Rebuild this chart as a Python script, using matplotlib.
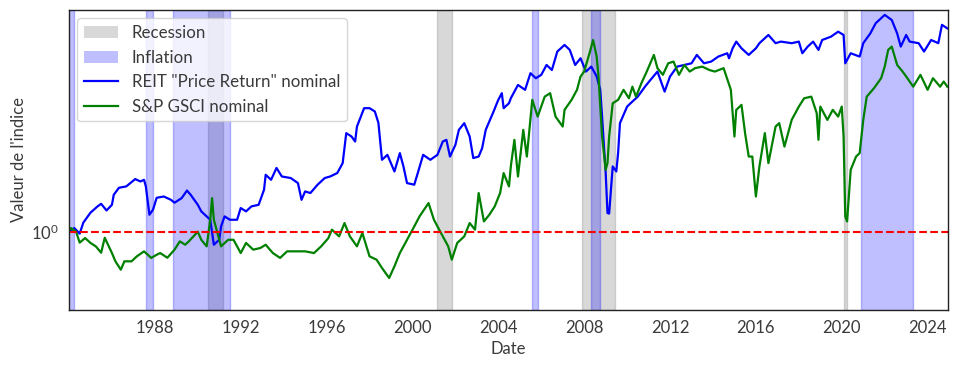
import numpy as np
import pandas as pd
import matplotlib
matplotlib.use("Agg")
import matplotlib.pyplot as plt
import matplotlib.dates as mdates
from matplotlib.patches import Patch
from matplotlib.lines import Line2D

plt.rcParams['font.family'] = ['Lato', 'DejaVu Sans']

# REIT "Price Return" nominal (index, start = 1)
reit_dates = [
    "1984-01", "1984-04", "1984-07", "1984-09", "1985-01", "1985-05", "1985-07", "1985-10",
    "1986-01", "1986-02", "1986-05", "1986-09", "1987-02", "1987-05", "1987-07", "1987-08",
    "1987-10", "1987-12", "1988-02", "1988-06", "1988-10", "1988-12", "1989-04", "1989-07",
    "1989-09", "1990-01", "1990-03", "1990-06", "1990-08", "1990-10", "1991-01", "1991-02",
    "1991-04", "1991-07", "1991-11", "1992-01", "1992-04", "1992-07", "1992-11", "1993-02",
    "1993-03", "1993-06", "1993-09", "1993-12", "1994-05", "1994-09", "1994-11", "1995-01",
    "1995-04", "1995-08", "1995-12", "1996-03", "1996-07", "1996-10", "1996-12", "1997-03",
    "1997-05", "1997-06", "1997-10", "1998-01", "1998-04", "1998-06", "1998-08", "1998-11",
    "1999-03", "1999-06", "1999-08", "1999-10", "2000-02", "2000-04", "2000-07", "2000-11",
    "2001-03", "2001-06", "2001-08", "2001-10", "2002-01", "2002-03", "2002-06", "2002-09",
    "2002-11", "2003-02", "2003-04", "2003-06", "2003-10", "2004-01", "2004-03", "2004-04",
    "2004-07", "2004-08", "2004-12", "2005-04", "2005-07", "2005-10", "2006-01", "2006-04",
    "2006-07", "2006-10", "2007-02", "2007-05", "2007-08", "2007-11", "2008-02", "2008-05",
    "2008-08", "2008-10", "2008-11", "2009-01", "2009-02", "2009-03", "2009-05", "2009-07",
    "2009-08", "2009-09", "2010-01", "2010-03", "2010-07", "2010-11", "2011-02", "2011-06",
    "2011-10", "2012-01", "2012-05", "2012-09", "2013-01", "2013-04", "2013-08", "2013-12",
    "2014-04", "2014-09", "2014-10", "2014-12", "2015-02", "2015-05", "2015-09", "2016-01",
    "2016-03", "2016-08", "2016-12", "2017-03", "2017-09", "2018-01", "2018-03", "2018-06",
    "2018-09", "2018-12", "2019-02", "2019-07", "2019-11", "2020-02", "2020-03", "2020-06",
    "2020-11", "2021-01", "2021-05", "2021-08", "2022-01", "2022-05", "2022-08", "2022-10",
    "2023-01", "2023-03", "2023-08", "2023-11", "2024-03", "2024-07", "2024-09", "2024-12",
]
reit_values = [
    1.00, 1.025, 0.987, 1.063, 1.137, 1.186, 1.207, 1.154,
    1.199, 1.283, 1.345, 1.357, 1.426, 1.403, 1.419, 1.357,
    1.121, 1.160, 1.257, 1.268, 1.240, 1.216, 1.254, 1.320,
    1.283, 1.199, 1.147, 1.109, 1.084, 0.916, 0.947, 1.036,
    1.109, 1.084, 1.084, 1.173, 1.147, 1.186, 1.199, 1.327,
    1.468, 1.419, 1.537, 1.451, 1.436, 1.388, 1.240, 1.312,
    1.298, 1.373, 1.436, 1.451, 1.485, 1.588, 1.944, 1.900,
    1.837, 2.032, 2.300, 2.300, 2.250, 2.084, 1.624, 1.679,
    1.501, 1.699, 1.553, 1.388, 1.373, 1.485, 1.679, 1.624,
    1.679, 1.837, 1.858, 1.660, 1.796, 1.987, 2.079, 1.900,
    1.643, 1.660, 1.756, 1.987, 2.224, 2.433, 2.545, 2.300,
    2.378, 2.459, 2.690, 2.603, 2.912, 2.815, 2.880, 3.078,
    2.975, 3.370, 3.523, 3.407, 3.078, 3.220, 2.944, 3.044,
    2.848, 2.603, 2.173, 1.488, 1.134, 1.130, 1.553, 1.501,
    1.703, 2.079, 2.325, 2.378, 2.486, 2.659, 2.781, 2.944,
    2.572, 2.848, 3.044, 3.078, 3.113, 3.294, 3.113, 3.149,
    3.257, 3.331, 3.220, 3.444, 3.603, 3.444, 3.294, 3.444,
    3.565, 3.768, 3.565, 3.603, 3.565, 3.603, 3.331, 3.484,
    3.603, 3.407, 3.642, 3.725, 3.853, 3.768, 3.113, 3.331,
    3.257, 3.565, 3.808, 4.079, 4.314, 4.168, 3.808, 3.484,
    3.768, 3.603, 3.565, 3.370, 3.642, 3.565, 4.034, 3.940,
]

# S&P GSCI nominal (index, start = 1)
gsci_dates = [
    "1984-01", "1984-02", "1984-05", "1984-07", "1984-10", "1985-01", "1985-04", "1985-07",
    "1985-09", "1986-01", "1986-03", "1986-06", "1986-08", "1986-12", "1987-03", "1987-07",
    "1987-11", "1988-02", "1988-04", "1988-08", "1988-12", "1989-03", "1989-06", "1989-08",
    "1990-01", "1990-03", "1990-06", "1990-08", "1990-09", "1990-10", "1991-01", "1991-02",
    "1991-06", "1991-09", "1992-01", "1992-04", "1992-08", "1992-12", "1993-03", "1993-07",
    "1993-11", "1994-03", "1994-07", "1995-01", "1995-06", "1995-10", "1996-02", "1996-04",
    "1996-08", "1996-11", "1997-02", "1997-06", "1997-09", "1998-01", "1998-05", "1998-08",
    "1998-12", "1999-03", "1999-06", "1999-10", "2000-02", "2000-05", "2000-10", "2001-01",
    "2001-05", "2001-09", "2001-11", "2002-02", "2002-06", "2002-09", "2002-12", "2003-02",
    "2003-05", "2003-08", "2003-11", "2004-02", "2004-04", "2004-07", "2004-08", "2004-10",
    "2004-12", "2005-03", "2005-05", "2005-08", "2005-11", "2006-03", "2006-06", "2006-09",
    "2007-01", "2007-02", "2007-06", "2007-09", "2007-11", "2008-01", "2008-04", "2008-06",
    "2008-08", "2008-09", "2008-11", "2009-01", "2009-02", "2009-03", "2009-05", "2009-08",
    "2009-11", "2010-02", "2010-04", "2010-06", "2010-09", "2010-12", "2011-04", "2011-06",
    "2011-09", "2011-12", "2012-03", "2012-06", "2012-09", "2012-12", "2013-03", "2013-07",
    "2013-11", "2014-02", "2014-07", "2014-11", "2015-01", "2015-02", "2015-05", "2015-07",
    "2015-09", "2015-11", "2016-01", "2016-03", "2016-06", "2016-08", "2016-12", "2017-02",
    "2017-05", "2017-09", "2018-01", "2018-04", "2018-08", "2018-11", "2018-12", "2019-01",
    "2019-05", "2019-08", "2019-11", "2020-01", "2020-02", "2020-03", "2020-04", "2020-06",
    "2020-09", "2020-11", "2021-01", "2021-03", "2021-07", "2021-11", "2022-01", "2022-03",
    "2022-05", "2022-08", "2022-11", "2023-01", "2023-05", "2023-09", "2024-01", "2024-04",
    "2024-08", "2024-10", "2024-12",
]
gsci_values = [
    1.00, 1.025, 1.00, 0.929, 0.958, 0.927, 0.906, 0.868,
    0.960, 0.866, 0.819, 0.774, 0.819, 0.819, 0.847, 0.876,
    0.838, 0.856, 0.866, 0.839, 0.886, 0.937, 0.916, 0.937,
    1.00, 0.947, 0.906, 1.084, 1.254, 1.084, 0.947, 0.906,
    0.947, 0.947, 0.866, 0.927, 0.886, 0.896, 0.916, 0.866,
    0.838, 0.876, 0.876, 0.876, 0.866, 0.906, 0.958, 1.014,
    0.969, 1.060, 0.969, 0.906, 0.991, 0.847, 0.828, 0.783,
    0.732, 0.792, 0.866, 0.947, 1.036, 1.109, 1.213, 1.084,
    0.991, 0.906, 0.828, 0.927, 0.969, 1.060, 1.014, 1.298,
    1.072, 1.121, 1.186, 1.298, 1.485, 1.357, 1.553, 1.858,
    1.451, 1.987, 1.660, 2.433, 2.173, 2.486, 2.545, 2.173,
    2.032, 2.274, 2.433, 2.603, 2.848, 2.944, 3.331, 3.642,
    3.257, 2.848, 1.900, 1.518, 1.588, 1.900, 2.378, 2.433,
    2.603, 2.459, 2.659, 2.486, 2.722, 2.944, 3.294, 3.012,
    2.880, 3.113, 3.149, 2.880, 3.078, 2.944, 3.012, 3.044,
    2.975, 2.944, 3.012, 2.603, 1.900, 2.274, 2.352, 1.944,
    1.660, 1.660, 1.268, 1.553, 1.944, 1.588, 2.032, 2.079,
    1.775, 2.125, 2.325, 2.459, 2.486, 2.224, 1.858, 2.325,
    2.125, 2.274, 2.173, 2.325, 1.900, 1.109, 1.072, 1.518,
    1.660, 1.699, 2.125, 2.486, 2.630, 2.815, 3.044, 3.407,
    3.484, 3.078, 2.944, 2.848, 2.659, 2.880, 2.603, 2.815,
    2.659, 2.752, 2.659,
]

# periods (start, end)
recessions = [("1990-07", "1991-03"), ("2001-03", "2001-11"),
              ("2007-12", "2009-06"), ("2020-02", "2020-04")]
inflation = [("1983-12", "1984-04"), ("1987-08", "1987-12"), ("1988-11", "1991-07"),
             ("2005-08", "2005-11"), ("2008-05", "2008-10"), ("2020-12", "2023-05")]

reit_x = pd.to_datetime(reit_dates)
gsci_x = pd.to_datetime(gsci_dates)

fig = plt.figure(figsize=(9.58, 3.69), dpi=100)
ax = fig.add_axes([0.072, 0.16, 0.918, 0.813])

for start, end in recessions:
    ax.axvspan(pd.Timestamp(start), pd.Timestamp(end), color='gray', alpha=0.3)
for start, end in inflation:
    ax.axvspan(pd.Timestamp(start), pd.Timestamp(end), color='blue', alpha=0.25)

ax.plot(reit_x, reit_values, color='blue', lw=1.6)
ax.plot(gsci_x, gsci_values, color='green', lw=1.6)
ax.axhline(1, color='red', ls='--', lw=1.5)

ax.set_yscale('log')
ax.set_ylim(0.59, 4.46)
ax.set_xlim(pd.Timestamp("1984-01-01"), pd.Timestamp("2024-12-20"))
ax.set_xticks([pd.Timestamp(f"{y}-01-01") for y in range(1988, 2025, 4)])
ax.xaxis.set_major_formatter(mdates.DateFormatter('%Y'))
ax.yaxis.set_minor_locator(matplotlib.ticker.NullLocator())
ax.tick_params(length=0, labelsize=12, colors='#3a3a3a', pad=7)
for s in ax.spines.values():
    s.set_color('#222222')
    s.set_linewidth(1.0)

ax.set_xlabel('Date', fontsize=12, color='#3a3a3a', labelpad=4)
ax.set_ylabel("Valeur de l'indice", fontsize=12, color='#3a3a3a', labelpad=3)

handles = [
    Patch(facecolor='gray', alpha=0.3, label='Recession'),
    Patch(facecolor='blue', alpha=0.25, label='Inflation'),
    Line2D([], [], color='blue', lw=1.6, label='REIT "Price Return" nominal'),
    Line2D([], [], color='green', lw=1.6, label='S&P GSCI nominal'),
]
leg = ax.legend(handles=handles, loc='upper left', fontsize=12.2, frameon=True,
                edgecolor='#cccccc', framealpha=0.8, labelcolor='#3a3a3a',
                labelspacing=0.5)

fig.savefig('out.png', dpi=100)
